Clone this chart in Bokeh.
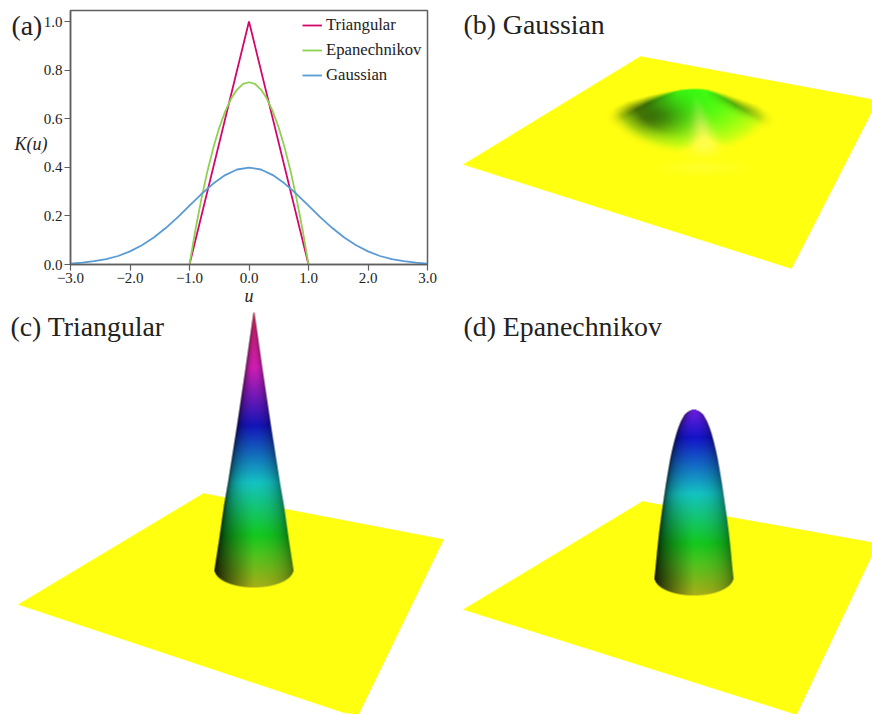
import numpy as np
from bokeh.embed import file_html
from bokeh.layouts import column, row
from bokeh.models import FixedTicker, Label, Legend, LegendItem, Range1d
from bokeh.plotting import figure
from bokeh.resources import INLINE

# ---- panel (a) values
tri_u = [-1.0, 0.0, 1.0]
tri_k = [0.0, 1.0, 0.0]
epa_u = [-1.0, -0.9, -0.8, -0.7, -0.6, -0.5, -0.4, -0.3, -0.2, -0.1, 0.0, 0.1, 0.2, 0.3, 0.4, 0.5, 0.6, 0.7, 0.8, 0.9, 1.0]
epa_k = [0.0, 0.143, 0.27, 0.383, 0.48, 0.563, 0.63, 0.683, 0.72, 0.743, 0.75, 0.743, 0.72, 0.683, 0.63, 0.563, 0.48, 0.383, 0.27, 0.143, 0.0]
gau_u = [-3.0, -2.8, -2.6, -2.4, -2.2, -2.0, -1.8, -1.6, -1.4, -1.2, -1.0, -0.8, -0.6, -0.4, -0.2, 0.0,
         0.2, 0.4, 0.6, 0.8, 1.0, 1.2, 1.4, 1.6, 1.8, 2.0, 2.2, 2.4, 2.6, 2.8, 3.0]
gau_k = [0.004, 0.008, 0.014, 0.022, 0.035, 0.054, 0.079, 0.111, 0.15, 0.194, 0.242, 0.29, 0.333, 0.368, 0.391, 0.399,
         0.391, 0.368, 0.333, 0.29, 0.242, 0.194, 0.15, 0.111, 0.079, 0.054, 0.035, 0.022, 0.014, 0.008, 0.004]
x_ticks = [-3, -2, -1, 0, 1, 2, 3]
x_labels = ["\u22123.0", "\u22122.0", "\u22121.0", "0.0", "1.0", "2.0", "3.0"]
y_ticks = [0, 0.2, 0.4, 0.6, 0.8, 1.0]
y_labels = ["0.0", "0.2", "0.4", "0.6", "0.8", "1.0"]

# ---- surfaces: plane outlines (page pixels) as seen in the picture
plane_b_x = [463, 640, 877, 791]
plane_b_y = [164, 56, 100, 268]
plane_c_x = [18, 203, 443, 358, 343]
plane_c_y = [604, 493, 539, 714, 712]
plane_d_x = [463, 642, 877, 796]
plane_d_y = [609, 501, 543, 714]

# ---- cone silhouettes (page y, half width) and height colours
tri_y = [312, 368, 425, 482, 505, 540, 569]
tri_w = [0.5, 8.5, 17, 26, 30, 35, 39.5]
epa_y = [409, 410, 412, 414, 417, 421, 427, 433, 441, 450, 458, 467, 483, 500, 516, 533, 550, 567, 577]
epa_w = [1, 4, 7, 9.3, 11, 13.2, 15.6, 17.6, 19.8, 22, 23.7, 25.3, 28, 30.5, 32.8, 35, 36.8, 38.4, 39.5]
tri_col_y = [312, 330, 368, 425, 482, 535, 555, 575, 590]
tri_col = [(190, 40, 70), (190, 30, 110), (205, 30, 180), (20, 20, 185), (20, 195, 195), (20, 200, 30), (80, 195, 30), (135, 180, 25), (175, 175, 25)]
epa_col_y = [409, 437, 493, 543, 563, 583, 597]
epa_col = [(110, 30, 225), (20, 20, 200), (20, 195, 195), (20, 200, 30), (80, 195, 30), (135, 180, 25), (175, 175, 25)]

# ---- Gaussian dome outline (page pixels)
dome_top_x = [600, 615, 627, 640, 650, 662, 673, 680, 690, 700, 707, 715, 725, 740, 755, 775]
dome_top_y = [128, 114, 107, 102, 98, 94, 91, 89.5, 88.5, 88.5, 89.5, 92, 96, 103, 110, 124]

YELLOW = "#ffff10"
SERIF = "Liberation Serif"
INK = "#222222"
FRAME = "#5f5f5f"


def to_rgba(rgb, a):
    out = np.zeros(a.shape, dtype=np.uint32)
    v = out.view(dtype=np.uint8).reshape(a.shape + (4,))
    v[..., :3] = np.clip(rgb, 0, 255).astype(np.uint8)
    v[..., 3] = (np.clip(a, 0, 1) * 255).astype(np.uint8)
    return out[::-1]


def cone_image(ys, ws, cys, cols, cx, rim):
    base = ys[-1]
    x0, x1 = int(cx - 46), int(cx + 46)
    y0, y1 = int(ys[0] - 2), int(base + rim + 3)
    X, Y = np.meshgrid(np.arange(x0, x1) + 0.5, np.arange(y0, y1) + 0.5)
    hw = np.interp(Y, ys, ws)
    t = np.clip((X - cx) / hw, -1, 1)
    a = np.clip(hw - np.abs(X - cx) + 0.5, 0, 1)
    a = a * np.clip(Y - ys[0] + 0.5, 0, 1)
    edge = base + rim * np.sqrt(1 - t ** 2)
    a = np.where(Y > base, a * np.clip(edge - Y + 0.5, 0, 1), a)
    c = np.stack([np.interp(Y, cys, [q[i] for q in cols]) for i in range(3)], axis=-1)
    tt = np.clip((t - 0.05) / 1.05, -1, 1)
    lit = (1 - tt ** 2) ** 0.32
    low = np.clip((Y - (base - 80)) / 80, 0, 1)
    lit = lit * (1 - 0.6 * np.clip(-t, 0, 1) * low)
    rgb = c * lit[..., None]
    return to_rgba(rgb, a), x0, y0, x1 - x0, y1 - y0


def dome_image():
    x0, x1, y0, y1 = 595, 785, 80, 180
    X, Y = np.meshgrid(np.arange(x0, x1) + 0.5, np.arange(y0, y1) + 0.5)
    top = np.interp(X, dome_top_x, dome_top_y)
    dx, dy = X - 691, np.clip(Y - 92, 0, None)
    rho = np.sqrt((dx / 89) ** 2 + (dy / 62) ** 2)
    # outline: sharp at the summit, blurred at the sides
    soft = 1 + 18 * np.clip((np.abs(dx) - 12) / 70, 0, 1) ** 1.2
    a = np.clip((Y - top) / soft + 0.5, 0, 1)
    a = a * np.clip((1.12 - rho) / 0.25, 0, 1)
    d = np.clip(rho, 0, 1) ** 1.9
    r = 60 + 195 * d
    g = np.full(X.shape, 255.0)
    b = np.full(X.shape, 18.0)
    fade = np.clip((1.08 - rho) / 0.4, 0, 1)
    dark = 0.55 * np.exp(-((X - 648) / 36) ** 2) * np.exp(-((Y - 116) / 20) ** 2) * fade
    ridge = np.exp(-(np.clip(Y - top, 0, None) / 8) ** 2) * np.clip((np.abs(dx) - 14) / 30, 0, 1) * fade
    lit = (1 - dark) * (1 - 0.4 * ridge)
    cs = 696 + (Y - 100) * 0.18
    wd = 3 + np.clip(Y - 95, 0, None) * 0.22
    hi = np.exp(-((X - cs) / wd) ** 2) * np.clip((Y - 94) / 30, 0, 1)
    r = r + 85 * hi
    b = b + 60 * hi
    rgb = np.stack([r, g, b], -1) * lit[..., None]
    band = 0.5 * np.exp(-((X - 702) / 34) ** 2 - ((Y - 167) / 6) ** 2)
    rgb2 = np.stack([np.full(X.shape, 255.0), np.full(X.shape, 255.0), np.full(X.shape, 70.0)], -1)
    mix = np.where(a[..., None] > band[..., None], rgb, rgb2)
    return to_rgba(mix, np.maximum(a, band)), x0, y0, x1 - x0, y1 - y0


def page_panel(left, top, w, h):
    p = figure(width=w, height=h, x_range=Range1d(left, left + w), y_range=Range1d(-(top + h), -top),
               output_backend="svg", toolbar_location=None, min_border=0, x_axis_type=None, y_axis_type=None,
               frame_align=False)
    p.outline_line_color = None
    p.grid.visible = False
    return p


def surface_panel(title, tx, ty, px, py, left, top, w, h, img=None):
    p = page_panel(left, top, w, h)
    p.patch(px, [-v for v in py], fill_color=YELLOW, line_color=YELLOW, line_width=0.5)
    if img is not None:
        im, x, y, dw, dh = img
        p.image_rgba(image=[im], x=[x], y=[-(y + dh)], dw=[dw], dh=[dh])
    p.add_layout(Label(x=tx, y=-ty, text=title, text_font=SERIF, text_font_size="27.8px", text_color=INK,
                       text_baseline="alphabetic"))
    return p


# ---- panel (a)
FL, FR, FT, FB = 70, 427, 10, 264
PA_LEFT, PT_W = 36, 49
W_A, H_A = 444 - PA_LEFT, 310
px_per_k = 243.0
pa = figure(width=W_A, height=H_A, x_range=Range1d(-3, 3), y_range=Range1d(0, (FB - FT) / px_per_k),
            output_backend="svg", toolbar_location=None, min_border_left=FL - PA_LEFT,
            min_border_right=444 - FR, min_border_top=FT, min_border_bottom=H_A - FB, frame_align=False,
            margin=(0, 0, 0, PA_LEFT - PT_W), border_fill_alpha=0, background_fill_alpha=0)
pa.grid.visible = False
pa.outline_line_color = FRAME
pa.outline_line_width = 1.5
for ax, ticks, labels in ((pa.xaxis[0], x_ticks, x_labels), (pa.yaxis[0], y_ticks, y_labels)):
    ax.ticker = FixedTicker(ticks=ticks)
    ax.major_label_overrides = dict(zip(ticks, labels))
    ax.major_tick_in = 0
    ax.major_tick_out = 6
    ax.minor_tick_line_color = None
    ax.axis_line_color = FRAME
    ax.axis_line_width = 1.5
    ax.major_tick_line_color = FRAME
    ax.major_tick_line_width = 1.2
    ax.major_label_text_font = SERIF
    ax.major_label_text_font_size = "15px"
    ax.major_label_text_color = INK
    ax.major_label_standoff = 2
pa.xaxis.axis_label = "u"
pa.xaxis.axis_label_text_font = SERIF
pa.xaxis.axis_label_text_font_style = "italic"
pa.xaxis.axis_label_text_font_size = "18px"
pa.xaxis.axis_label_text_color = INK
pa.xaxis.axis_label_standoff = 0

r1 = pa.line(tri_u, tri_k, line_color="#d4066c", line_width=1.8)
r2 = pa.line(epa_u, epa_k, line_color="#90d050", line_width=1.8)
r3 = pa.line(gau_u, gau_k, line_color="#5a9bd5", line_width=1.8)
legend = Legend(items=[LegendItem(label="Triangular", renderers=[r1]),
                       LegendItem(label="Epanechnikov", renderers=[r2]),
                       LegendItem(label="Gaussian", renderers=[r3])],
                location=(232, 179), background_fill_alpha=0, border_line_color=None, padding=0, margin=0,
                spacing=5, glyph_width=20, glyph_height=20, label_height=20, label_standoff=4,
                label_text_font=SERIF, label_text_font_size="16.7px", label_text_color=INK)
pa.add_layout(legend)

# texts left of the frame of (a) live on a narrow strip under it
pt = page_panel(0, 0, PT_W, H_A)
pt.add_layout(Label(x=14, y=-143, text="K(u)", text_font=SERIF, text_font_style="italic", text_font_size="18px",
                    text_color=INK, text_baseline="alphabetic"))
pt.add_layout(Label(x=11, y=-25, text="(a)", text_font=SERIF, text_font_size="27.8px", text_color=INK,
                    text_baseline="alphabetic"))

# ---- panels (b), (c), (d)
pb = surface_panel("(b) Gaussian", 463, 24, plane_b_x, plane_b_y, 444, 0, 428, 310, dome_image())
pc = surface_panel("(c) Triangular", 10, 326, plane_c_x, plane_c_y, 0, 310, 444, 404,
                   cone_image(tri_y, tri_w, tri_col_y, tri_col, 253.5, 18))
pd = surface_panel("(d) Epanechnikov", 463, 326, plane_d_x, plane_d_y, 444, 310, 428, 404,
                   cone_image(epa_y, epa_w, epa_col_y, epa_col, 693.5, 18))

page = column(row(pt, pa, pb, spacing=0), row(pc, pd, spacing=0), spacing=0)
open("out.html", "w").write(file_html(page, INLINE))
